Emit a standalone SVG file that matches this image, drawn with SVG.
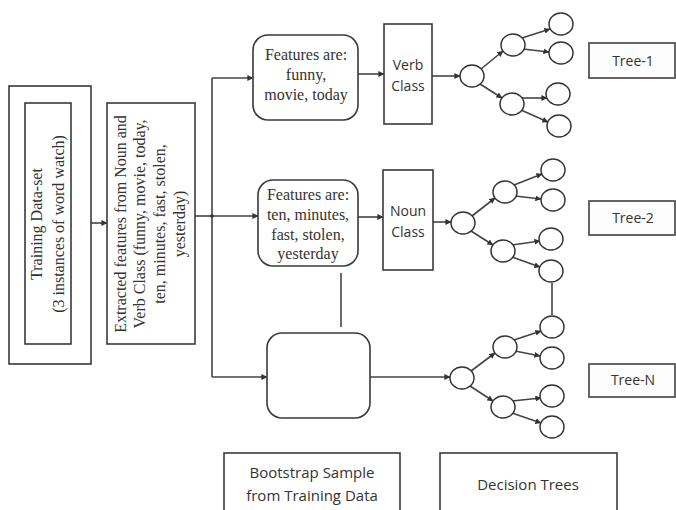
<svg xmlns="http://www.w3.org/2000/svg" width="676" height="510" viewBox="0 0 676 510">
<defs>
<marker id="ah" viewBox="0 0 8 8" refX="7.5" refY="4" markerWidth="6" markerHeight="6" markerUnits="userSpaceOnUse" orient="auto">
<path d="M0,0 L8,4 L0,8 z" fill="#333"/>
</marker>
<style>
.bx{fill:#fff;stroke:#3a3a3a;stroke-width:1.6}
.rb{fill:#fff;stroke:#3a3a3a;stroke-width:1.6}
.tb{fill:#fdfdfd;stroke:#555;stroke-width:1.8}
.nd{fill:#fff;stroke:#333;stroke-width:1.5}
.ln{fill:none;stroke:#444;stroke-width:1.6}
.ar{fill:none;stroke:#444;stroke-width:1.6;marker-end:url(#ah)}
.sf{font-family:"Liberation Serif","Times New Roman",serif;font-size:16px;fill:#333;text-anchor:middle}
.ss{font-family:"Open Sans","Liberation Sans",sans-serif;font-size:14px;fill:#333;text-anchor:middle}
.sb{font-family:"Open Sans","Liberation Sans",sans-serif;font-size:15px;fill:#333;text-anchor:middle}
</style>
</defs>
<rect width="676" height="510" fill="#fff"/>

<g id="connectors">
<path class="ar" d="M91,223 L107,223"/>
<path class="ln" d="M195,216 L212,216"/>
<path class="ln" d="M212,78 L212,377"/>
<path class="ar" d="M212,78 L253,78"/>
<path class="ar" d="M212,216 L258,216"/>
<path class="ar" d="M212,377 L267,377"/>
<circle cx="212" cy="216" r="1.8" fill="#333"/>
<path class="ar" d="M358,74 L384,74"/>
<path class="ar" d="M358,217 L383,217"/>
<path class="ar" d="M432,76 L460,76"/>
<path class="ar" d="M433,222 L451,222"/>
<path class="ar" d="M370,377 L450,377"/>
<path class="ln" d="M341,273 L341,327"/>
<path class="ln" d="M552,283 L552,315"/>
<!-- tree 1 -->
<path class="ar" d="M481,69 L503,51"/>
<path class="ar" d="M480,84 L502,98"/>
<path class="ar" d="M522,38 L550,29"/>
<path class="ar" d="M523,49 L549,52"/>
<path class="ar" d="M521,98 L547,98"/>
<path class="ar" d="M521,110 L548,122"/>
<!-- tree 2 -->
<path class="ar" d="M472,216 L495,198"/>
<path class="ar" d="M471,231 L493,245"/>
<path class="ar" d="M514,185 L542,174"/>
<path class="ar" d="M515,196 L541,199"/>
<path class="ar" d="M512,245 L540,241"/>
<path class="ar" d="M512,257 L540,267"/>
<!-- tree N -->
<path class="ar" d="M471,371 L495,353"/>
<path class="ar" d="M470,386 L493,401"/>
<path class="ar" d="M514,340 L541,331"/>
<path class="ar" d="M515,351 L540,356"/>
<path class="ar" d="M512,401 L541,398"/>
<path class="ar" d="M512,413 L541,423"/>
</g>

<g id="training">
<rect class="bx" x="9" y="86" width="82" height="278"/>
<rect class="bx" x="25" y="103" width="46" height="241"/>
<text class="sf" transform="translate(42,224) rotate(-90)">Training Data-set</text>
<text class="sf" transform="translate(64,224) rotate(-90)">(3 instances of word watch)</text>
</g>

<g id="extracted">
<rect class="bx" x="107" y="103" width="88" height="241"/>
<text class="sf" transform="translate(126,224) rotate(-90)">Extracted features from Noun and</text>
<text class="sf" transform="translate(145,224) rotate(-90)">Verb Class (funny, movie, today,</text>
<text class="sf" transform="translate(165,224) rotate(-90)">ten, minutes, fast, stolen,</text>
<text class="sf" transform="translate(185,224) rotate(-90)">yesterday)</text>
</g>

<g id="features1">
<rect class="rb" x="253" y="35" width="105" height="85" rx="15"/>
<text class="sf" x="306" y="60">Features are:</text>
<text class="sf" x="306" y="80">funny,</text>
<text class="sf" x="306" y="100">movie, today</text>
</g>

<g id="features2">
<rect class="rb" x="258" y="180" width="100" height="86" rx="15"/>
<text class="sf" x="308" y="200">Features are:</text>
<text class="sf" x="308" y="220">ten, minutes,</text>
<text class="sf" x="308" y="240">fast, stolen,</text>
<text class="sf" x="308" y="259">yesterday</text>
</g>

<g id="features3">
<rect class="rb" x="267" y="333" width="103" height="85" rx="15"/>
</g>

<g id="verb">
<rect class="bx" x="384" y="24" width="48" height="100"/>
<text class="ss" x="408" y="70">Verb</text>
<text class="ss" x="408" y="91">Class</text>
</g>

<g id="noun">
<rect class="bx" x="383" y="170" width="50" height="100"/>
<text class="ss" x="408" y="216">Noun</text>
<text class="ss" x="408" y="237">Class</text>
</g>

<g id="tree1">
<ellipse class="nd" cx="472" cy="76" rx="12" ry="11"/>
<ellipse class="nd" cx="513" cy="45" rx="12" ry="11"/>
<ellipse class="nd" cx="512" cy="104" rx="12" ry="11"/>
<ellipse class="nd" cx="561" cy="24" rx="12" ry="11"/>
<ellipse class="nd" cx="561" cy="53" rx="12" ry="11"/>
<ellipse class="nd" cx="558" cy="94" rx="12" ry="11"/>
<ellipse class="nd" cx="559" cy="126" rx="12" ry="11"/>
</g>

<g id="tree2">
<ellipse class="nd" cx="463" cy="223" rx="12" ry="11"/>
<ellipse class="nd" cx="505" cy="192" rx="12" ry="11"/>
<ellipse class="nd" cx="503" cy="251" rx="12" ry="11"/>
<ellipse class="nd" cx="553" cy="170" rx="12" ry="11"/>
<ellipse class="nd" cx="553" cy="200" rx="12" ry="11"/>
<ellipse class="nd" cx="551" cy="239" rx="12" ry="11"/>
<ellipse class="nd" cx="551" cy="271" rx="12" ry="11"/>
</g>

<g id="treeN">
<ellipse class="nd" cx="462" cy="378" rx="12" ry="11"/>
<ellipse class="nd" cx="505" cy="347" rx="12" ry="11"/>
<ellipse class="nd" cx="503" cy="407" rx="12" ry="11"/>
<ellipse class="nd" cx="552" cy="327" rx="12" ry="11"/>
<ellipse class="nd" cx="552" cy="358" rx="12" ry="11"/>
<ellipse class="nd" cx="552" cy="396" rx="12" ry="11"/>
<ellipse class="nd" cx="552" cy="427" rx="12" ry="11"/>
</g>

<g id="tree1-label">
<rect class="tb" x="589" y="43" width="86" height="35"/>
<text class="ss" x="633" y="66">Tree-1</text>
</g>
<g id="tree2-label">
<rect class="tb" x="589" y="201" width="86" height="34"/>
<text class="ss" x="633" y="223">Tree-2</text>
</g>
<g id="treeN-label">
<rect class="tb" x="589" y="364" width="86" height="33"/>
<text class="ss" x="633" y="385">Tree-N</text>
</g>

<g id="bootstrap-label">
<rect class="bx" x="224" y="453" width="176" height="62"/>
<text class="sb" x="312" y="478">Bootstrap Sample</text>
<text class="sb" x="312" y="501">from Training Data</text>
</g>
<g id="decision-label">
<rect class="bx" x="440" y="453" width="177" height="62"/>
<text class="sb" x="528" y="490">Decision Trees</text>
</g>
</svg>
